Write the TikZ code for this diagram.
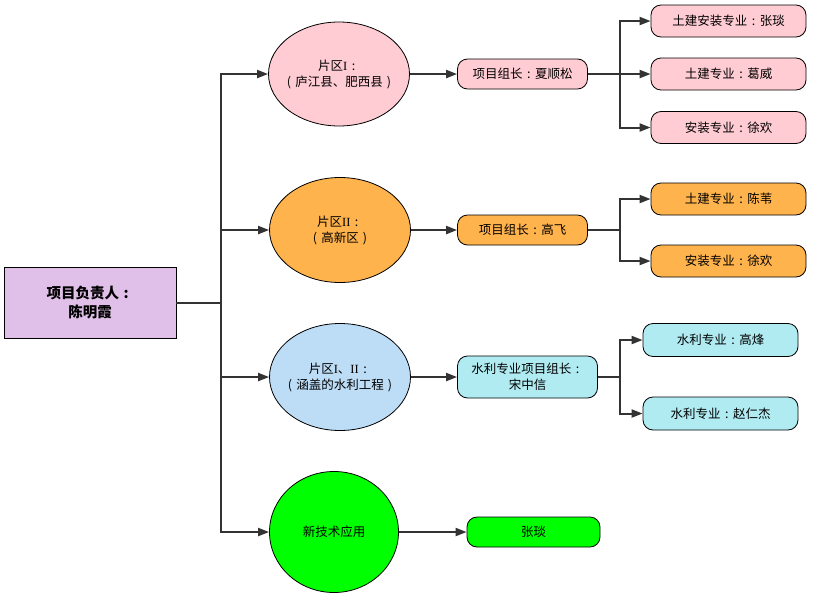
\documentclass[tikz,border=0pt]{standalone}
\usepackage{fontspec}
\setmainfont{Noto Sans CJK SC}
\newfontfamily\latinI{Liberation Serif}
\newcommand\cn{\makebox[1em][c]{:}}
\newcommand\lpar{\makebox[1em][c]{(}}
\newcommand\rpar{\makebox[1em][c]{)}}
\usetikzlibrary{shapes.geometric,arrows.meta}
\definecolor{linec}{HTML}{333333}
\definecolor{cpurple}{HTML}{E0BFE8}
\definecolor{cpink}{HTML}{FFCCD4}
\definecolor{corange}{HTML}{FFB34C}
\definecolor{cblue}{HTML}{BDDDF7}
\definecolor{ccyan}{HTML}{B0EBF2}
\definecolor{cgreen}{HTML}{00FF00}
\begin{document}
\begin{tikzpicture}[x=1pt,y=-1pt,font=\fontsize{12.5}{16}\selectfont,
  conn/.style={draw=linec,line width=2pt},
  arr/.style={conn,-{Triangle[length=11pt,width=8pt]}},
  oval/.style={ellipse,draw=black,line width=0.8pt,inner sep=0pt},
  pill/.style={rectangle,rounded corners=10pt,draw=black,line width=0.8pt,align=center,inner sep=0pt},
  lbl/.style={align=center,inner sep=0pt}]
\useasboundingbox (0,0) rectangle (820,600);
% root
\node[rectangle,draw=black,line width=0.8pt,fill=cpurple,minimum width=172pt,minimum height=71pt,align=center,font=\fontsize{14.5}{19}\selectfont\bfseries] (root) at (90,303) {项目负责人\cn\\陈明霞};
% level 1 ellipses
\node[oval,fill=cpink,minimum width=141pt,minimum height=104pt] (e1) at (339,74) {};
\node[lbl] (t1) at (e1) {片区{\latinI I}\cn\\\lpar 庐江县、肥西县\rpar};
\node[oval,fill=corange,minimum width=141pt,minimum height=105pt] (e2) at (340,230) {};
\node[lbl] (t2) at (e2) {片区{\latinI II}\cn\\\lpar 高新区\rpar};
\node[oval,fill=cblue,minimum width=141pt,minimum height=107pt] (e3) at (340,377) {};
\node[lbl] (t3) at (e3) {片区{\latinI I}、{\latinI II}\cn\\\lpar 涵盖的水利工程\rpar};
\node[oval,fill=cgreen,minimum width=129pt,minimum height=121pt] (e4) at (334,532) {};
\node[lbl] (t4) at (e4) {新技术应用};
% leaders
\node[pill,fill=cpink,minimum width=130pt,minimum height=30pt] (L1) at (522.5,74) {项目组长\cn 夏顺松};
\node[pill,fill=corange,minimum width=130pt,minimum height=30pt] (L2) at (522.5,230) {项目组长\cn 高飞};
\node[pill,fill=ccyan,minimum width=140pt,minimum height=42pt] (L3) at (527.5,377) {水利专业项目组长\cn\\宋中信};
\node[pill,fill=cgreen,minimum width=133pt,minimum height=30pt] (L4) at (533.5,532) {张琰};
% specialists
\node[pill,fill=cpink,minimum width=155pt,minimum height=32pt] (s11) at (728.5,21) {土建安装专业\cn 张琰};
\node[pill,fill=cpink,minimum width=155pt,minimum height=32pt] (s12) at (728.5,74) {土建专业\cn 葛威};
\node[pill,fill=cpink,minimum width=155pt,minimum height=32pt] (s13) at (728.5,127.5) {安装专业\cn 徐欢};
\node[pill,fill=corange,minimum width=155pt,minimum height=32pt] (s21) at (728.5,199) {土建专业\cn 陈苇};
\node[pill,fill=corange,minimum width=155pt,minimum height=32pt] (s22) at (728.5,261) {安装专业\cn 徐欢};
\node[pill,fill=ccyan,minimum width=155pt,minimum height=33pt] (s31) at (720.5,340) {水利专业\cn 高烽};
\node[pill,fill=ccyan,minimum width=155pt,minimum height=33pt] (s32) at (720.5,413.5) {水利专业\cn 赵仁杰};
% trunk
\coordinate (t) at (221,303);
\draw[conn] (root.east) -- (t);
\draw[arr] (t) |- (e1.west);
\draw[arr] (t) |- (e2.west);
\draw[arr] (t) |- (e3.west);
\draw[arr] (t) |- (e4.west);
% ellipse to leader
\draw[arr] (e1.east) -- (L1.west);
\draw[arr] (e2.east) -- (L2.west);
\draw[arr] (e3.east) -- (L3.west);
\draw[arr] (e4.east) -- (L4.west);
% branches
\coordinate (b1) at (620,74);
\draw[conn] (L1.east) -- (b1);
\draw[arr] (b1) |- (s11.west);
\draw[arr] (b1) -- (s12.west);
\draw[arr] (b1) |- (s13.west);
\coordinate (b2) at (620,230);
\draw[conn] (L2.east) -- (b2);
\draw[arr] (b2) |- (s21.west);
\draw[arr] (b2) |- (s22.west);
\coordinate (b3) at (620,377);
\draw[conn] (L3.east) -- (b3);
\draw[arr] (b3) |- (s31.west);
\draw[arr] (b3) |- (s32.west);
\end{tikzpicture}
\end{document}
